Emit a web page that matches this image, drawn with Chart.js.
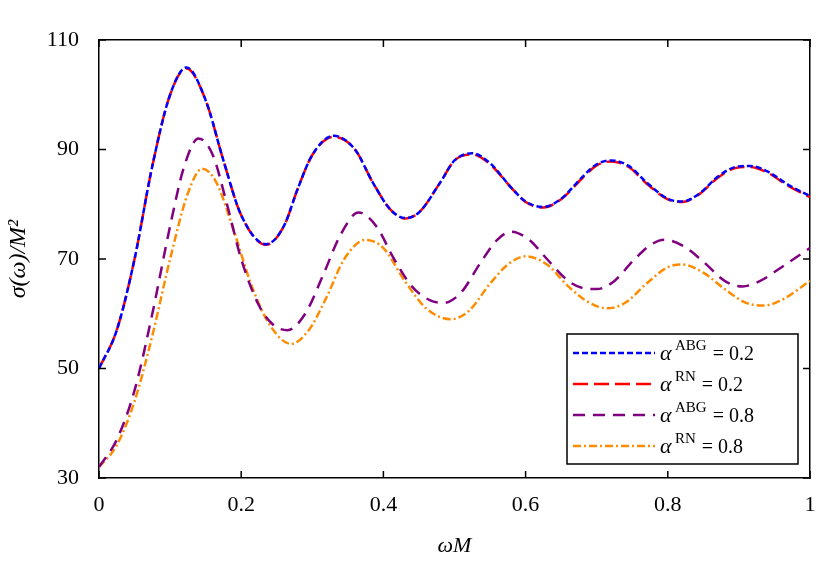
<!DOCTYPE html>
<html><head><script src="https://cdn.jsdelivr.net/npm/chart.js@4"></script>
<style>body{margin:0;background:#fff}#w{width:830px;height:571px}</style></head>
<body><div id="w"><canvas id="c"></canvas></div>
<script>
const xBlue=[0,0.025,0.05,0.075,0.1,0.123,0.15,0.175,0.2,0.235,0.26,0.28,0.3,0.33,0.36,0.385,0.41,0.43,0.45,0.48,0.5,0.525,0.55,0.58,0.6,0.625,0.65,0.68,0.7,0.72,0.745,0.77,0.8,0.82,0.845,0.87,0.895,0.915,0.94,0.97,1];
const yBlue=[50,57,70,87,100,105,99,88,78,72.7,76,83,89,92.5,90,84,79,77.5,78.5,84,88,89.3,87.5,83,80.5,79.5,81,85,87.3,88,87,84,81,80.5,82,85,86.8,87,86,83.5,81.5];
const yRed=[50,57,70,87,100,104.8,99,88,78,72.6,76,83,89,92.3,90,84,79,77.4,78.5,84,88,89.1,87.3,83,80.4,79.4,80.9,84.8,87.1,87.8,86.8,83.8,80.9,80.4,81.9,84.8,86.6,86.8,85.8,83.3,81.3];
const xPurple=[0,0.025,0.05,0.075,0.1,0.12,0.14,0.16,0.18,0.2,0.225,0.245,0.265,0.29,0.315,0.34,0.365,0.39,0.415,0.44,0.465,0.485,0.51,0.535,0.56,0.58,0.605,0.63,0.66,0.68,0.7,0.725,0.75,0.775,0.795,0.82,0.85,0.88,0.905,0.93,0.96,1];
const yPurple=[32,37,46,60,76,87,92,89,80,70,61.5,58,57,60,67,74.5,78.5,76,70,65,62.5,62,64,69,73.5,75,73.5,70,66,64.7,64.5,66,69.5,72.5,73.5,72.5,69.5,66,65,66,68.5,72];
const xOrange=[0,0.025,0.05,0.075,0.1,0.125,0.145,0.165,0.19,0.215,0.24,0.27,0.295,0.32,0.345,0.375,0.4,0.43,0.46,0.495,0.52,0.55,0.575,0.6,0.63,0.66,0.69,0.715,0.74,0.77,0.8,0.82,0.85,0.88,0.91,0.935,0.96,1];
const yOrange=[32,36,44,56,70,82,86.5,84,75,65,58,54.5,57,63,70,73.5,72,66,61,59,60.5,65.5,69,70.5,69,65,62,61,62,65.5,68.5,69,67.5,64.5,62,61.5,62.5,66];
const yTicks=[30,50,70,90,110];
const xTicks=[0,0.2,0.4,0.6,0.8,1];
const pts=(xs,ys)=>xs.map((x,i)=>({x,y:ys[i]}));
const series=[
 {sup:'ABG',val:'0.2',color:'#0000ff',dash:[6,3],data:pts(xBlue,yBlue)},
 {sup:'RN',val:'0.2',color:'#ff0000',dash:[15,6],data:pts(xBlue,yRed)},
 {sup:'ABG',val:'0.8',color:'#800080',dash:[12,8],data:pts(xPurple,yPurple)},
 {sup:'RN',val:'0.8',color:'#ff8c00',dash:[8,3,2,3],data:pts(xOrange,yOrange)}];
const F='"Liberation Serif", "Times New Roman", serif';
const legendPlugin={id:'lg',afterDraw(ch){
 const c=ch.ctx;c.save();
 const a=ch.chartArea, xs=ch.scales.x, ys=ch.scales.y;
 c.strokeStyle='#000';c.lineWidth=1.5;
 xTicks.forEach(v=>{const p=xs.getPixelForValue(v);c.beginPath();c.moveTo(p,a.bottom);c.lineTo(p,a.bottom-7);c.moveTo(p,a.top);c.lineTo(p,a.top+7);c.stroke();});
 yTicks.forEach(v=>{const p=ys.getPixelForValue(v);c.beginPath();c.moveTo(a.left,p);c.lineTo(a.left+7,p);c.moveTo(a.right,p);c.lineTo(a.right-7,p);c.stroke();});
 const x0=567,y0=334,w=231,h=130;
 c.fillStyle='#fff';c.beginPath();c.rect(x0,y0,w,h);c.fill();c.stroke();
 series.forEach((s,i)=>{const y=y0+19+i*31;
  c.strokeStyle=s.color;c.lineWidth=2.5;c.setLineDash(s.dash);c.beginPath();c.moveTo(573,y);c.lineTo(655,y);c.stroke();c.setLineDash([]);
  c.fillStyle='#000';c.textBaseline='alphabetic';
  c.font='italic 22px '+F;c.fillText('α',660,y+7);
  c.font='15px '+F;c.fillText(s.sup,675,y-3);
  const sw=c.measureText(s.sup).width;
  c.font='20px '+F;c.fillText(' = '+s.val,675+sw+1,y+7);
 });
 c.restore();}};
new Chart(document.getElementById('c'),{type:'line',
 data:{datasets:series.map(s=>({data:s.data,borderColor:s.color,borderDash:s.dash,borderWidth:2.5,pointRadius:0,cubicInterpolationMode:'monotone',fill:false}))},
 options:{responsive:true,maintainAspectRatio:false,animation:false,
  layout:{padding:{top:40,right:20,left:0,bottom:8}},
  plugins:{legend:{display:false},tooltip:{enabled:false}},
  scales:{
   x:{type:'linear',min:0,max:1,afterFit(a){a.height=85},afterBuildTicks(a){a.ticks=xTicks.map(v=>({value:v}))},
    ticks:{font:{family:F,size:22},color:'#000',padding:6,maxRotation:0,callback:v=>String(v)},
    grid:{display:false},border:{color:'#000',width:1.5},
    title:{display:true,text:'ωM',font:{family:F,size:22,style:'italic'},color:'#000',padding:{top:14}}},
   y:{min:30,max:110,afterFit(a){a.width=99},afterBuildTicks(a){a.ticks=yTicks.map(v=>({value:v}))},
    ticks:{font:{family:F,size:22},color:'#000',padding:12},
    grid:{display:false},border:{color:'#000',width:1.5},
    title:{display:true,text:'σ(ω)/M²',font:{family:F,size:24,style:'italic'},color:'#000'}},
   x2:{type:'linear',position:'top',min:0,max:1,ticks:{display:false},grid:{display:false},border:{color:'#000',width:1.5},afterFit(a){a.height=0}},
   y2:{position:'right',min:30,max:110,ticks:{display:false},grid:{display:false},border:{color:'#000',width:1.5},afterFit(a){a.width=0}}
  }},plugins:[legendPlugin]});
</script></body></html>
